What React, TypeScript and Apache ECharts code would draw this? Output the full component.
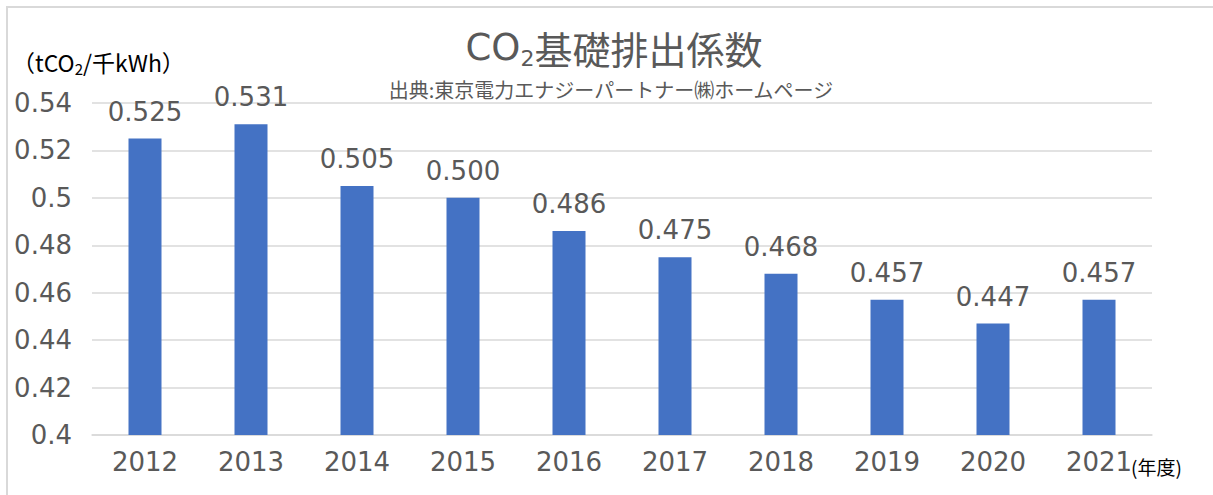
import React, { useEffect, useRef } from "react";
import * as echarts from "echarts";

const years = ["2012", "2013", "2014", "2015", "2016", "2017", "2018", "2019", "2020", "2021"];
const values = [0.525, 0.531, 0.505, 0.5, 0.486, 0.475, 0.468, 0.457, 0.447, 0.457];
const titleMain = "基礎排出係数";
const subtitle = "出典:東京電力エナジーパートナー㈱ホームページ";
const unitLabel = "千kWh）";
const xUnit = "(年度)";

const FONT = "'Noto Sans CJK JP', 'Noto Sans', sans-serif";
const NUMFONT = "'DejaVu Sans', 'Noto Sans', sans-serif";
const TXT = "#595959";

export default function App() {
  const ref = useRef<HTMLDivElement>(null);
  useEffect(() => {
    document.body.style.margin = "0";
    const chart = echarts.init(ref.current!, null, { renderer: "svg" });
    chart.setOption({
      animation: false,
      textStyle: { fontFamily: FONT },
      graphic: [
        {
          type: "rect",
          shape: { x: 7, y: 7, width: 1240, height: 500 },
          style: { fill: "none", stroke: "#d9d9d9", lineWidth: 2 },
          silent: true,
        },
        {
          type: "text",
          x: 614,
          y: 47,
          style: {
            text: "{c|CO}{s|2}{a|" + titleMain + "}",
            align: "center",
            verticalAlign: "middle",
            rich: {
              c: { fontSize: 37, fill: TXT, fontFamily: NUMFONT, fontWeight: "normal" },
              a: { fontSize: 38, fill: TXT, fontFamily: FONT, fontWeight: "normal" },
              s: { fontSize: 22, fill: TXT, fontFamily: NUMFONT, padding: [22, 0, 0, 0] },
            },
          },
        },
        {
          type: "text",
          x: 611,
          y: 89,
          style: {
            text: subtitle,
            fontSize: 20,
            fill: TXT,
            fontFamily: FONT,
            align: "center",
            verticalAlign: "middle",
          },
        },
        {
          type: "text",
          x: 12,
          y: 62,
          style: {
            text: "{a|（tCO}{s|2}{a|/" + unitLabel + "}",
            fontFamily: FONT,
            verticalAlign: "middle",
            rich: {
              a: { fontSize: 23, fill: "#000", fontFamily: FONT },
              s: { fontSize: 15, fill: "#000", fontFamily: FONT, padding: [12, 0, 0, 0] },
            },
          },
        },
        {
          type: "text",
          x: 1131,
          y: 466,
          style: {
            text: xUnit,
            fontSize: 19,
            fill: "#000",
            fontFamily: FONT,
            verticalAlign: "middle",
          },
        },
      ],
      grid: { left: 92, right: 61, top: 103, bottom: 60, containLabel: false },
      xAxis: {
        type: "category",
        data: years,
        axisLine: { lineStyle: { color: "#d9d9d9", width: 1.5 } },
        axisTick: { show: false },
        axisLabel: { fontSize: 26, color: TXT, margin: 14, fontFamily: NUMFONT },
      },
      yAxis: {
        type: "value",
        min: 0.4,
        max: 0.54,
        interval: 0.02,
        axisLine: { show: false },
        axisTick: { show: false },
        splitLine: { lineStyle: { color: "#d9d9d9", width: 1.5 } },
        axisLabel: { fontSize: 26, color: TXT, margin: 20, fontFamily: NUMFONT },
      },
      series: [
        {
          type: "bar",
          data: values,
          barWidth: 33,
          itemStyle: { color: "#4472C4" },
          label: {
            show: true,
            position: "top",
            distance: 14,
            fontSize: 26,
            color: TXT,
            fontFamily: NUMFONT,
            formatter: (p: any) => Number(p.value).toFixed(3),
          },
        },
      ],
    });
    return () => chart.dispose();
  }, []);
  return <div ref={ref} style={{ width: 1213, height: 495 }} />;
}
